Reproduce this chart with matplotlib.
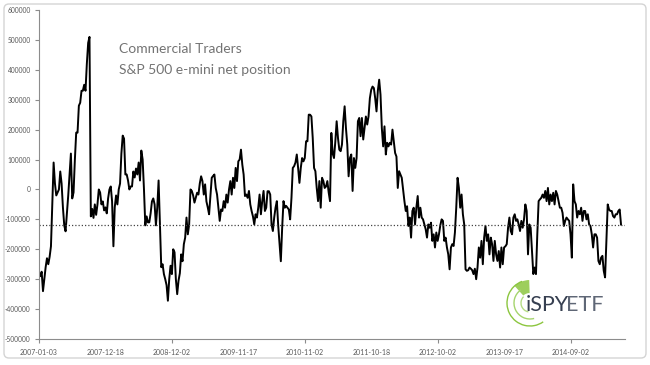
import numpy as np
import matplotlib.pyplot as plt
from matplotlib.patches import Arc, Wedge, FancyBboxPatch

# weekly net position of commercial traders
net_position = [
    -280000, -290000, -275000, -340000, -300000, -260000, -230000, -250000, -225000, -190000,
    -50000, 90000, 20000, -20000, -10000, 0, 60000, 20000, -60000, -120000,
    -140000, -80000, -20000, 50000, 120000, -30000, -10000, 100000, 190000, 190000,
    280000, 290000, 330000, 330000, 350000, 330000, 420000, 490000, 510000, -90000,
    -65000, -95000, -50000, -85000, -50000, 0, -10000, -50000, -40000, -70000,
    -60000, -80000, -30000, 0, 10000, -40000, -190000, -60000, -20000, -50000,
    0, 20000, 120000, 180000, 170000, 50000, 50000, 30000, 0, 10000,
    10000, 60000, 40000, 70000, 50000, 90000, 30000, 130000, 100000, 0,
    -120000, -90000, -110000, -110000, -80000, -40000, -30000, -50000, -120000, -60000,
    30000, -120000, -260000, -250000, -283000, -300000, -320000, -372000, -300000, -255000,
    -283000, -200000, -210000, -300000, -350000, -305000, -280000, -217000, -240000, -183000,
    -161000, -94000, -150000, -117000, 0, -5000, -20000, -44000, -28000, -11000,
    -17000, 20000, 44000, 28000, -17000, 17000, -40000, -60000, -83000, -20000,
    39000, 45000, 50000, 5000, -17000, -60000, -105000, -67000, -72000, -39000,
    -61000, -17000, -44000, 0, 28000, -17000, 39000, 5000, 72000, 28000,
    94000, 100000, 133000, 83000, 50000, -22000, -17000, -28000, -5000, -50000,
    -72000, -90000, -117000, -83000, -94000, -61000, -17000, -83000, -39000, -5000,
    -72000, -61000, -6000, -6000, -17000, -117000, -139000, -94000, -61000, -39000,
    -120000, -180000, -240000, -128000, -39000, -61000, -55000, -61000, -67000, -100000,
    -28000, 72000, 78000, 90000, 117000, 72000, 22000, 72000, 105000, 94000,
    105000, 161000, 161000, 250000, 250000, 244000, 172000, 72000, 61000, 5000,
    -39000, 28000, -61000, 39000, 28000, 5000, 10000, 28000, -10000, -39000,
    189000, 120000, 105000, 160000, 228000, 172000, 133000, 128000, 150000, 228000,
    278000, 205000, 150000, 44000, 105000, 117000, -5000, 105000, 72000, 105000,
    228000, 239000, 178000, 239000, 167000, 205000, 244000, 217000, 244000, 305000,
    333000, 344000, 339000, 305000, 261000, 330000, 367000, 317000, 205000, 144000,
    211000, 117000, 156000, 144000, 156000, 150000, 200000, 161000, 122000, 110000,
    5000, 61000, 50000, 39000, 0, -39000, -72000, -56000, -122000, -94000,
    -161000, -72000, -61000, -117000, -60000, -22000, -94000, -61000, -94000, -100000,
    -117000, -133000, -161000, -117000, -128000, -111000, -172000, -150000, -194000, -144000,
    -172000, -150000, -120000, -100000, -105000, -172000, -161000, -194000, -217000, -267000,
    -194000, -183000, -189000, -144000, -61000, 39000, 5000, -61000, -17000, -83000,
    -117000, -267000, -272000, -270000, -261000, -265000, -270000, -283000, -265000, -300000,
    -261000, -194000, -228000, -172000, -250000, -161000, -122000, -172000, -150000, -217000,
    -161000, -183000, -239000, -172000, -217000, -239000, -206000, -261000, -194000, -250000,
    -194000, -190000, -183000, -128000, -94000, -139000, -150000, -94000, -83000, -105000,
    -100000, -117000, -139000, -105000, -128000, -100000, -50000, -72000, -217000, -117000,
    -128000, -206000, -283000, -261000, -283000, -150000, -39000, -33000, -28000, -17000,
    -28000, -5000, -39000, 5000, -50000, -17000, -39000, -11000, -50000, -5000,
    -17000, -39000, -61000, -61000, -78000, -122000, -105000, -94000, -100000, -105000,
    -150000, -228000, 17000, -39000, -50000, -94000, -72000, -83000, -61000, -105000,
    -72000, -72000, -100000, -83000, -117000, -122000, -150000, -194000, -150000, -150000,
    -161000, -239000, -250000, -228000, -222000, -272000, -294000, -172000, -50000, -67000,
    -72000, -72000, -89000, -94000, -83000, -83000, -72000, -67000, -117000,
]

date_labels = ['2007-01-03', '2007-12-18', '2008-12-02', '2009-11-17', '2010-11-02',
               '2011-10-18', '2012-10-02', '2013-09-17', '2014-09-02']
label_every = 50
tick_every = 100
reference_level = -120000
y_ticks = list(range(-500000, 600001, 100000))

plt.rcParams['font.family'] = ['Lato', 'DejaVu Sans']

W, H = 650, 365
fig = plt.figure(figsize=(W / 100, H / 100), dpi=100)
ax = fig.add_axes([39 / W, 1 - 339 / H, (625 - 39) / W, (339 - 10) / H])

weeks = np.arange(len(net_position))
ax.plot(weeks, net_position, color='black', lw=1.4)
ax.axhline(reference_level, color='#444444', lw=0.9, ls=(0, (1, 1.6)))

ax.set_xlim(0, 441)
ax.set_ylim(-500000, 600000)

axis_grey = '#8c8c8c'
for side in ['top', 'right']:
    ax.spines[side].set_visible(False)
for side in ['left', 'bottom']:
    ax.spines[side].set_color(axis_grey)
    ax.spines[side].set_linewidth(0.8)

ax.set_yticks(y_ticks)
ax.set_yticklabels([str(v) for v in y_ticks])
ax.tick_params(axis='y', direction='out', length=3, width=0.8, color=axis_grey,
               labelsize=4.8, labelcolor='#595959', pad=3)

# labels every 50 weeks, tick marks every 100 weeks
label_pos = [i * label_every for i in range(len(date_labels))]
ax.xaxis.remove_overlapping_locs = False
ax.set_xticks(label_pos)
ax.set_xticklabels(date_labels)
ax.tick_params(axis='x', which='major', length=0, labelsize=5, labelcolor='#595959', pad=7)
ax.set_xticks(list(range(0, label_pos[-1] + 1, tick_every)), minor=True)
ax.tick_params(axis='x', which='minor', direction='out', length=3, width=0.8, color=axis_grey)

# overlay in pixel units for border, caption and logo
ov = fig.add_axes([0, 0, 1, 1], zorder=5)
ov.set_xlim(0, W)
ov.set_ylim(H, 0)
ov.axis('off')
ov.patch.set_alpha(0)

ov.add_patch(FancyBboxPatch((4, 4), 642, 354, boxstyle='round,pad=0,rounding_size=5',
                            fill=False, ec='#d4d4d4', lw=1))

ov.text(119, 53, 'Commercial Traders', fontsize=10, color='#737373', va='baseline')
ov.text(119, 74, 'S&P 500 e-mini net position', fontsize=10, color='#737373', va='baseline')

cx, cy = 530, 303
ov.add_patch(Wedge((cx, cy), 23, 228, 268, width=13, fc='#8cc63f', ec='none', alpha=0.85))
ov.add_patch(Arc((cx, cy), 46, 46, theta1=55, theta2=250, color='#8cc63f', lw=1.0))
ov.add_patch(Arc((cx, cy), 32, 32, theta1=75, theta2=235, color='#a5d46e', lw=1.0))
ov.add_patch(Arc((cx, cy), 18, 18, theta1=100, theta2=225, color='#b5dc85', lw=1.0))

t1 = ov.text(526, 311, 'iSPY', fontsize=15.5, color='#363f50', va='baseline')
ov.annotate('ETF', xy=(1, 0), xycoords=t1, xytext=(-2.5, 0), textcoords='offset points',
            fontsize=15.5, color='#5f6776', va='bottom', ha='left')

fig.savefig('out.png', dpi=100)
